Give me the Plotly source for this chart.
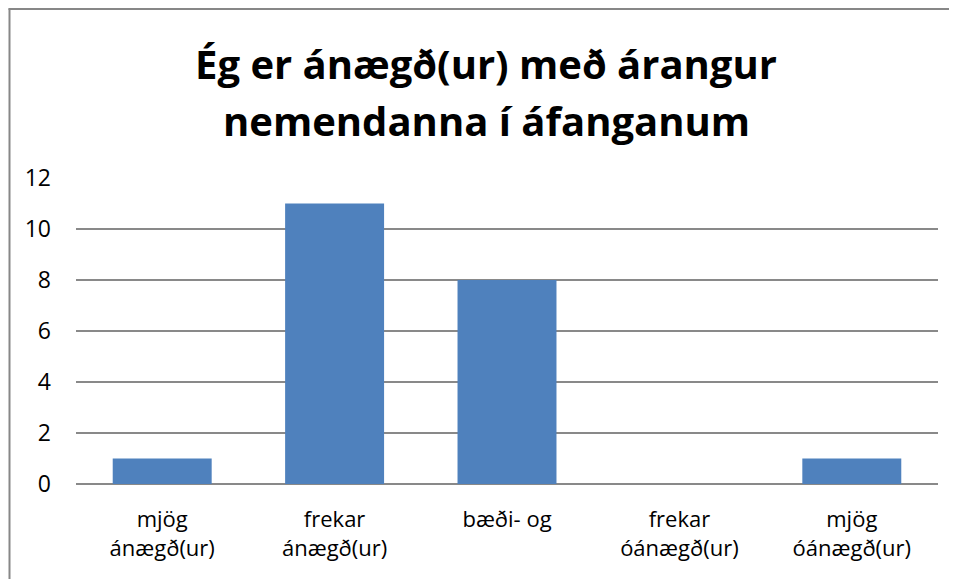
import plotly.graph_objects as go

categories = ["mjög<br>ánægð(ur)", "frekar<br>ánægð(ur)", "bæði- og", "frekar<br>óánægð(ur)", "mjög<br>óánægð(ur)"]
values = [1, 11, 8, 0, 1]
y_ticks = [0, 2, 4, 6, 8, 10, 12]
title_lines = ["Ég er ánægð(ur) með árangur", "nemendanna í áfanganum"]

W, H = 957, 579
L, R, T, B = 68, 27, 170, 103
pw, ph = W - L - R, H - T - B

def px_x(x):
    return (x - L) / pw

def px_y(y):
    return (H - B - y) / ph

FONT = "Open Sans"
GRID = "#898989"
BORDER = "#878787"

fig = go.Figure(go.Bar(
    x=categories, y=values,
    marker=dict(color="#4F81BD", line=dict(width=0)),
    width=0.574,
))

annotations = []
for line, ymid in zip(title_lines, [55, 112]):
    annotations.append(dict(
        text="<b>" + line + "</b>", xref="paper", yref="paper",
        x=px_x(478), y=px_y(ymid), xanchor="center", yanchor="middle",
        showarrow=False, font=dict(family=FONT, size=40, color="black"),
    ))

fig.update_layout(
    width=W, height=H,
    margin=dict(l=L, r=R, t=T, b=B),
    paper_bgcolor="white", plot_bgcolor="white",
    font=dict(family=FONT, size=22, color="black"),
    showlegend=False,
    annotations=annotations,
    xaxis=dict(showgrid=False, showline=False, ticks="", tickfont=dict(size=22),
               ticklabelstandoff=20),
    yaxis=dict(range=[0, 12], tickvals=y_ticks, showgrid=True, gridcolor=GRID,
               gridwidth=1.5, zeroline=True, zerolinecolor=GRID, zerolinewidth=1.5,
               showline=False, ticks="", ticklabelstandoff=24, tickfont=dict(size=23)),
    shapes=[
        dict(type="line", xref="paper", yref="paper",
             x0=px_x(1.5), x1=px_x(1.5), y0=px_y(0.5), y1=px_y(W),
             line=dict(color=BORDER, width=2), layer="above"),
        dict(type="line", xref="paper", yref="paper",
             x0=px_x(0.5), x1=px_x(W + 10), y0=px_y(1), y1=px_y(1),
             line=dict(color=BORDER, width=2), layer="above"),
    ],
)

fig.write_html("out.html")
